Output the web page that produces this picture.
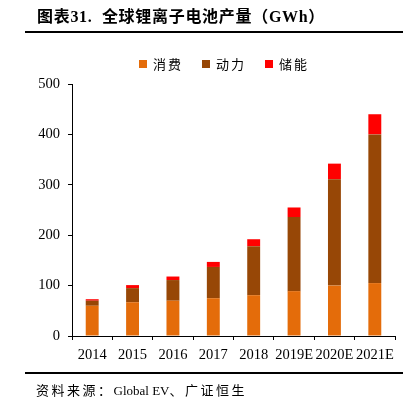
<!DOCTYPE html>
<html>
<head>
<meta charset="utf-8">
<script src="https://cdn.jsdelivr.net/npm/chart.js@4/dist/chart.umd.min.js"></script>
<style>
  html, body { margin: 0; padding: 0; background: #fff; }
  body { width: 403px; height: 397px; position: relative; overflow: hidden;
         font-family: "Liberation Serif", "Noto Sans CJK SC", serif; }
  #title { position: absolute; left: 37px; top: 3px; font-size: 16px; font-weight: bold;
           letter-spacing: 0.7px; color: #000; white-space: nowrap; }
  .rule { position: absolute; left: 25px; right: 0; height: 2px; background: #000; }
  #legend { position: absolute; top: 54px; left: 139px; font-size: 13px; letter-spacing: 2px;
            color: #000; white-space: nowrap; }
  #legend span.item { display: inline-block; margin-right: 19px; }
  #legend i { display: inline-block; width: 8px; height: 8px; margin-right: 6px; vertical-align: 1px; }
  #source { position: absolute; left: 36px; top: 380px; font-size: 13px;
            color: #000; white-space: nowrap; }
  #source .cjk { letter-spacing: 2.5px; }
  #wrap { position: absolute; left: 0; top: 0; width: 403px; height: 397px; }
</style>
</head>
<body>
<div id="wrap"><canvas id="chart"></canvas></div>
<div id="title">图表31.&nbsp;&nbsp;全球锂离子电池产量（GWh）</div>
<div class="rule" style="top:31px"></div>
<div id="legend"></div>
<div class="rule" style="top:372px"></div>
<div id="source"><span class="cjk">资料来源：</span>Global EV<span class="cjk">、广证恒生</span></div>
<script>
// --- data (GWh) ---
const years = ['2014', '2015', '2016', '2017', '2018', '2019E', '2020E', '2021E'];
const consumer = [60, 67, 70, 75, 81, 89, 100, 105];   // 消费
const power    = [10, 28, 41, 62, 97, 147, 211, 295];  // 动力
const storage  = [3, 6, 7, 10, 14, 19, 31, 40];        // 储能
const yTicks = [0, 100, 200, 300, 400, 500];

const seriesNames = ['消费', '动力', '储能'];
const seriesColors = ['#E46C0A', '#974706', '#FF0000'];

// legend (html)
document.getElementById('legend').innerHTML = seriesNames.map((n, i) =>
  `<span class="item"><i style="background:${seriesColors[i]}"></i>${n}</span>`).join('');

const tickFont = { family: '"Liberation Serif", serif', size: 14.5 };

new window.Chart(document.getElementById('chart').getContext('2d'), {
  type: 'bar',
  data: {
    labels: years,
    datasets: [consumer, power, storage].map((d, i) => ({
      label: seriesNames[i],
      data: d,
      backgroundColor: seriesColors[i],
      borderWidth: 0,
      barPercentage: 0.32,
      categoryPercentage: 1
    }))
  },
  options: {
    responsive: true, maintainAspectRatio: false, animation: false,
    layout: { padding: { top: 84, left: 0, right: 8, bottom: 31 } },
    plugins: { legend: { display: false }, tooltip: { enabled: false } },
    scales: {
      x: {
        stacked: true,
        afterFit: s => { s.height = 30; },
        grid: { drawOnChartArea: false, drawTicks: true, tickLength: 4, color: '#000', offset: true },
        border: { display: true, color: '#000', width: 1 },
        ticks: { color: '#000', font: tickFont, padding: 6, maxRotation: 0, autoSkip: false }
      },
      y: {
        stacked: true, min: 0, max: 500,
        afterFit: s => { s.width = 72; },
        afterBuildTicks: s => { s.ticks = yTicks.map(v => ({ value: v })); },
        grid: { drawOnChartArea: false, drawTicks: true, tickLength: 4, color: '#000' },
        border: { display: true, color: '#000', width: 1 },
        ticks: { color: '#000', font: tickFont, padding: 8 }
      }
    }
  }
});
</script>
</body>
</html>
